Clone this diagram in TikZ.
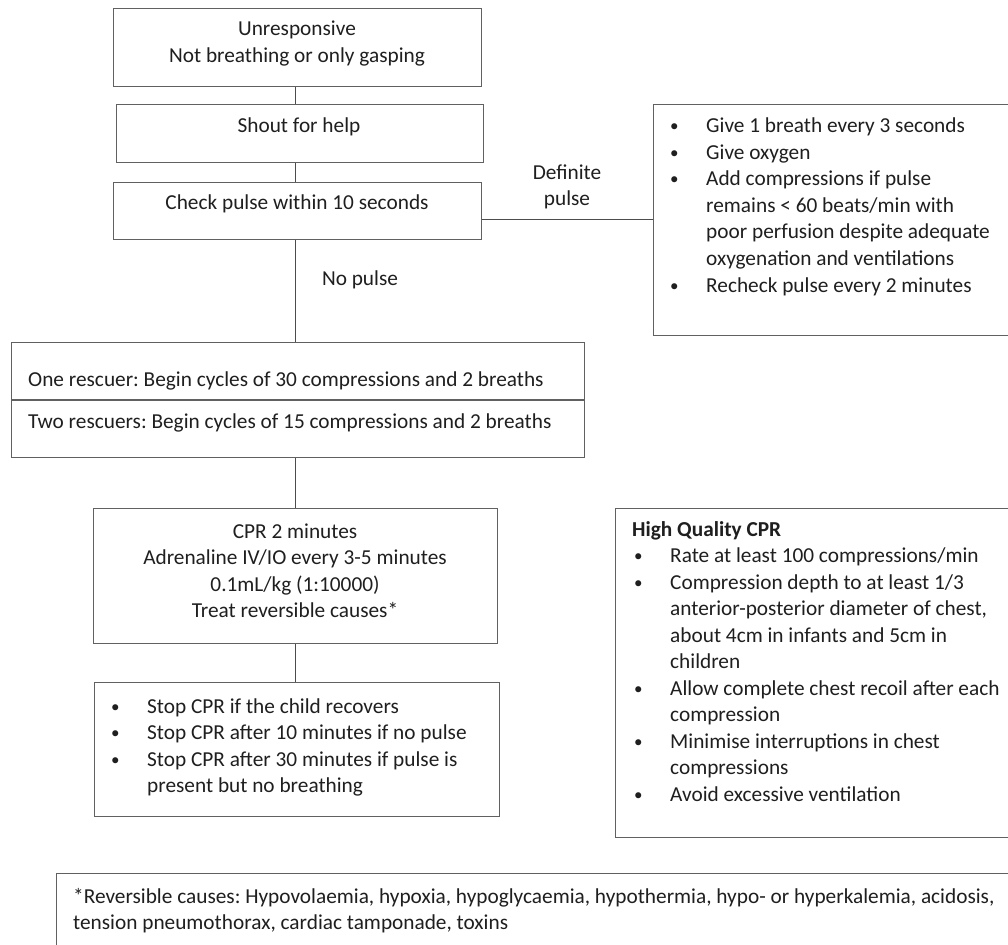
\documentclass[tikz,border=0pt]{standalone}
\usepackage{fontspec}
\setmainfont{Carlito}
\usetikzlibrary{calc}
\frenchspacing
\newcommand{\bul}{\makebox[36pt][l]{\raisebox{1pt}{\scalebox{0.8}{•}}}}
\newcommand{\ind}{\hspace*{36pt}}
\tikzset{
  box/.style={draw=black!62, line width=1.2pt, inner sep=0pt, anchor=north west},
  txt/.style={inner sep=0pt, text=black!88, font=\fontsize{21.3}{26.5}\selectfont\frenchspacing},
  conn/.style={draw=black!70, line width=1.2pt}
}
\begin{document}
\begin{tikzpicture}[x=1pt,y=-1pt]
\useasboundingbox (0,0) rectangle (1008,944);
\clip (0,0) rectangle (1008,944);
\fill[white] (0,0) rectangle (1008,944);

% boxes
\node[box, minimum width=368pt, minimum height=78pt] (b1) at (113,8) {};
\node[box, minimum width=367pt, minimum height=58pt] (b2) at (116,104) {};
\node[box, minimum width=368pt, minimum height=57pt] (b3) at (113,182) {};
\node[box, minimum width=380pt, minimum height=231pt] (b4) at (653,104) {};
\node[box, minimum width=573pt, minimum height=115pt] (b5) at (11,342) {};
\node[box, minimum width=404pt, minimum height=135pt] (b6) at (93,508) {};
\node[box, minimum width=405pt, minimum height=134pt] (b7) at (94,682) {};
\node[box, minimum width=420pt, minimum height=329pt] (b8) at (615,508) {};
\node[box, minimum width=980pt, minimum height=100pt] (b9) at (56,873) {};

% divider in two-rescuer box
\draw[conn, draw=black!62] ([yshift=-58pt]b5.north west) -- ([yshift=-58pt]b5.north east);

% texts
\node[txt, anchor=base] (t1) at (297,36) {\parbox[t]{360pt}{\centering Unresponsive\\Not breathing or only gasping}};
\node[txt, anchor=base] (t2) at (299,133) {\parbox[t]{360pt}{\centering Shout for help}};
\node[txt, anchor=base] (t3) at (297,209) {\parbox[t]{360pt}{\centering Check pulse within 10 seconds}};
\node[txt, anchor=base] (tdef) at (567,179) {\parbox[t]{120pt}{\centering Definite\\pulse}};
\node[txt, anchor=base] (tno) at (360,285) {No pulse};
\node[txt, anchor=base west] (t4) at (670,133) {\parbox[t]{340pt}{\raggedright
\bul Give 1 breath every 3 seconds\\
\bul Give oxygen\\
\bul Add compressions if pulse\\
\ind remains < 60 beats/min with\\
\ind poor perfusion despite adequate\\
\ind oxygenation and ventilations\\
\bul Recheck pulse every 2 minutes}};
\node[txt, anchor=base west] (t5a) at (28,386) {One rescuer: Begin cycles of 30 compressions and 2 breaths};
\node[txt, anchor=base west] (t5b) at (28,428) {Two rescuers: Begin cycles of 15 compressions and 2 breaths};
\node[txt, anchor=base] (t6) at (295,538) {\parbox[t]{390pt}{\centering CPR 2 minutes\\Adrenaline IV/IO every 3-5 minutes\\0.1mL/kg (1:10000)\\Treat reversible causes*}};
\node[txt, anchor=base west] (t7) at (111,713) {\parbox[t]{380pt}{\raggedright
\bul Stop CPR if the child recovers\\
\bul Stop CPR after 10 minutes if no pulse\\
\bul Stop CPR after 30 minutes if pulse is\\
\ind present but no breathing}};
\node[txt, anchor=base west] (t8) at (632,536) {\parbox[t]{380pt}{\raggedright
\textbf{High Quality CPR}\\
\hspace*{2pt}\bul Rate at least 100 compressions/min\\
\hspace*{2pt}\bul Compression depth to at least 1/3\\
\hspace*{38pt}anterior-posterior diameter of chest,\\
\hspace*{38pt}about 4cm in infants and 5cm in\\
\hspace*{38pt}children\\
\hspace*{2pt}\bul Allow complete chest recoil after each\\
\hspace*{38pt}compression\\
\hspace*{2pt}\bul Minimise interruptions in chest\\
\hspace*{38pt}compressions\\
\hspace*{2pt}\bul Avoid excessive ventilation}};
\node[txt, anchor=base west] (t9) at (73,903) {\parbox[t]{940pt}{\raggedright
*Reversible causes: Hypovolaemia, hypoxia, hypoglycaemia, hypothermia, hypo- or hyperkalemia, acidosis,\\
tension pneumothorax, cardiac tamponade, toxins}};

% connectors
\draw[conn] ([xshift=-2pt]b1.south) -- ([xshift=-2pt]b1.south |- b2.north);
\draw[conn] ([xshift=-2pt]b1.south |- b2.south) -- ([xshift=-2pt]b1.south |- b3.north);
\draw[conn] ([xshift=-2pt]b3.south) -- ([xshift=-2pt]b3.south |- b5.north);
\draw[conn] ([yshift=-8.5pt]b3.east) -- ([yshift=-8.5pt]b3.east -| b4.west);
\draw[conn] ([xshift=-2pt]b3.south |- b5.south) -- ([xshift=-2pt]b3.south |- b6.north);
\draw[conn] ([xshift=-2pt]b3.south |- b6.south) -- ([xshift=-2pt]b3.south |- b7.north);
\end{tikzpicture}
\end{document}
